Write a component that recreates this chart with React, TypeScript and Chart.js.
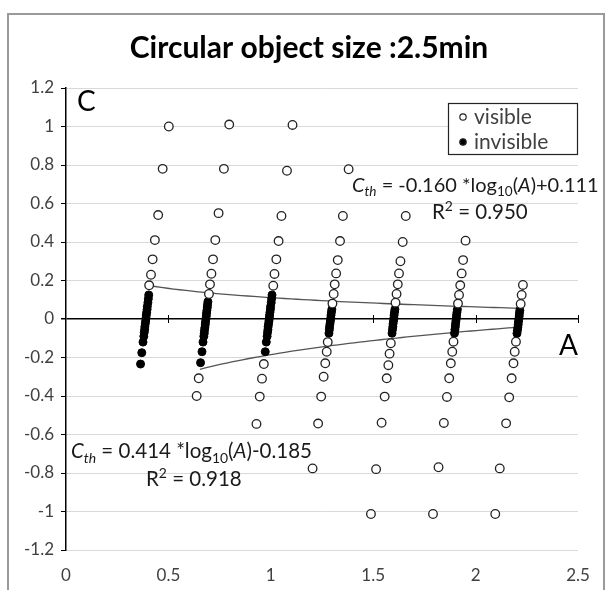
import React, { useEffect, useRef } from "react";
import { Chart, registerables } from "chart.js";

Chart.register(...registerables);

const TITLE = "Circular object size :2.5min";
const X_TICKS = [0, 0.5, 1, 1.5, 2, 2.5];

// visible (open circles)
const visibleA = [
  0.502, 0.472, 0.450, 0.434, 0.423, 0.415, 0.406,
  0.797, 0.771, 0.745, 0.729, 0.718, 0.710, 0.703, 0.698, 0.648, 0.638,
  1.106, 1.079, 1.052, 1.038, 1.027, 1.018, 1.012, 0.966, 0.957, 0.946, 0.930,
  1.380, 1.352, 1.338, 1.327, 1.319, 1.312, 1.307, 1.301, 1.278, 1.273, 1.266, 1.258, 1.246, 1.231, 1.204,
  1.659, 1.644, 1.633, 1.626, 1.620, 1.614, 1.609, 1.586, 1.580, 1.574, 1.566, 1.556, 1.541, 1.514, 1.489,
  1.951, 1.939, 1.932, 1.925, 1.919, 1.914, 1.892, 1.886, 1.879, 1.871, 1.860, 1.845, 1.819, 1.792,
  2.231, 2.225, 2.220, 2.197, 2.191, 2.185, 2.176, 2.164, 2.149, 2.118, 2.096,
];
const visibleC = [
  1.0, 0.78, 0.54, 0.41, 0.31, 0.23, 0.175,
  1.01, 0.78, 0.55, 0.41, 0.31, 0.235, 0.18, 0.13, -0.308, -0.4,
  1.008, 0.77, 0.535, 0.405, 0.31, 0.234, 0.173, -0.234, -0.31, -0.403, -0.545,
  0.778, 0.535, 0.405, 0.306, 0.237, 0.18, 0.13, 0.08, -0.12, -0.17, -0.23, -0.3, -0.403, -0.543, -0.776,
  0.535, 0.4, 0.3, 0.237, 0.18, 0.13, 0.085, -0.126, -0.18, -0.24, -0.308, -0.403, -0.539, -0.78, -1.013,
  0.407, 0.306, 0.237, 0.175, 0.125, 0.08, -0.118, -0.17, -0.23, -0.308, -0.405, -0.54, -0.77, -1.013,
  0.177, 0.125, 0.078, -0.118, -0.17, -0.23, -0.308, -0.407, -0.542, -0.776, -1.013,
];

// invisible (filled circles)
const invisibleA = [
  0.404, 0.402, 0.400, 0.397, 0.396, 0.394, 0.392, 0.391, 0.389, 0.387, 0.385, 0.384, 0.382, 0.380, 0.376, 0.370, 0.364,
  0.693, 0.691, 0.690, 0.688, 0.686, 0.685, 0.683, 0.681, 0.680, 0.678, 0.676, 0.675, 0.673, 0.669, 0.664, 0.657,
  1.006, 1.004, 1.002, 0.999, 0.998, 0.996, 0.994, 0.993, 0.991, 0.989, 0.987, 0.986, 0.984, 0.982, 0.978, 0.973,
  1.298, 1.296, 1.294, 1.293, 1.291, 1.289, 1.287, 1.286, 1.284,
  1.606, 1.604, 1.602, 1.601, 1.599, 1.597, 1.596, 1.594, 1.592,
  1.911, 1.909, 1.907, 1.906, 1.904, 1.902, 1.901, 1.899, 1.897,
  2.216, 2.214, 2.213, 2.211, 2.209, 2.208, 2.206, 2.204, 2.202,
];
const invisibleC = [
  0.125, 0.105, 0.085, 0.065, 0.05, 0.035, 0.02, 0.005, -0.01, -0.025, -0.04, -0.055, -0.07, -0.09, -0.12, -0.175, -0.234,
  0.09, 0.075, 0.06, 0.045, 0.03, 0.015, 0, -0.015, -0.03, -0.045, -0.06, -0.075, -0.09, -0.12, -0.17, -0.227,
  0.125, 0.105, 0.085, 0.065, 0.05, 0.035, 0.02, 0.005, -0.01, -0.025, -0.04, -0.055, -0.07, -0.09, -0.12, -0.17,
  0.05, 0.035, 0.02, 0.005, -0.01, -0.025, -0.04, -0.055, -0.074,
  0.05, 0.035, 0.02, 0.005, -0.01, -0.025, -0.04, -0.055, -0.074,
  0.05, 0.035, 0.02, 0.005, -0.01, -0.025, -0.04, -0.055, -0.074,
  0.045, 0.03, 0.015, 0, -0.015, -0.03, -0.045, -0.06, -0.075,
];

// fitted trend lines (from the equations printed on the chart)
const upperFit = { slope: -0.16, intercept: 0.111, from: 0.405, to: 2.211 };
const lowerFit = { slope: 0.414, intercept: -0.185, from: 0.654, to: 2.211 };

function fitPoints(f: { slope: number; intercept: number; from: number; to: number }) {
  const pts: { x: number; y: number }[] = [];
  const n = 60;
  for (let i = 0; i <= n; i++) {
    const a = f.from + ((f.to - f.from) * i) / n;
    pts.push({ x: a, y: f.slope * Math.log10(a) + f.intercept });
  }
  return pts;
}

const FONT = "Lato, 'Open Sans', sans-serif";

type Seg = { t: string; it?: boolean; sub?: boolean; sup?: boolean };

function drawRich(ctx: CanvasRenderingContext2D, segs: Seg[], x: number, y: number, size: number, color: string) {
  let cx = x;
  ctx.fillStyle = color;
  ctx.textBaseline = "alphabetic";
  ctx.textAlign = "left";
  for (const s of segs) {
    const sz = s.sub || s.sup ? size * 0.68 : size;
    ctx.font = `${s.it ? "italic " : ""}${sz}px ${FONT}`;
    const dy = s.sub ? size * 0.22 : s.sup ? -size * 0.38 : 0;
    ctx.fillText(s.t, cx, y + dy);
    cx += ctx.measureText(s.t).width;
  }
}

const fmt = (v: number) => String(Math.round(v * 10) / 10);

const decorPlugin = {
  id: "decor",
  beforeDraw(chart: any) {
    const ctx = chart.ctx as CanvasRenderingContext2D;
    ctx.save();
    ctx.fillStyle = "#ffffff";
    ctx.fillRect(0, 0, chart.width, chart.height);
    ctx.strokeStyle = "#9a9a9a";
    ctx.lineWidth = 2;
    ctx.strokeRect(8, 14, 596, 590);
    ctx.restore();
  },
  afterDraw(chart: any) {
    const ctx = chart.ctx as CanvasRenderingContext2D;
    const xs = chart.scales.x;
    const ys = chart.scales.y;
    ctx.save();
    // title
    ctx.fillStyle = "#000";
    ctx.font = `bold 30px ${FONT}`;
    ctx.textAlign = "center";
    ctx.textBaseline = "middle";
    ctx.fillText(TITLE, 309, 48);
    // axis names
    ctx.font = `28px ${FONT}`;
    ctx.textAlign = "left";
    ctx.textBaseline = "alphabetic";
    ctx.fillText("C", 77, 111);
    ctx.fillText("A", 559, 355);
    // ticks on the zero line
    const y0 = ys.getPixelForValue(0);
    ctx.strokeStyle = "#000";
    ctx.lineWidth = 1;
    for (const v of X_TICKS) {
      if (v === 0) continue;
      const px = Math.round(xs.getPixelForValue(v)) + 0.5;
      ctx.beginPath();
      ctx.moveTo(px, y0 - 4);
      ctx.lineTo(px, y0 + 4);
      ctx.stroke();
    }
    // equations
    drawRich(ctx, [
      { t: "C", it: true }, { t: "th", it: true, sub: true }, { t: " = -0.160 *log" },
      { t: "10", sub: true }, { t: "(" }, { t: "A", it: true }, { t: ")+0.111" },
    ], 352, 192, 20, "#1a1a1a");
    drawRich(ctx, [{ t: "R" }, { t: "2", sup: true }, { t: " = 0.950" }], 432, 219, 20.5, "#1a1a1a");
    drawRich(ctx, [
      { t: "C", it: true }, { t: "th", it: true, sub: true }, { t: " = 0.414 *log" },
      { t: "10", sub: true }, { t: "(" }, { t: "A", it: true }, { t: ")-0.185" },
    ], 71, 458, 20.5, "#1a1a1a");
    drawRich(ctx, [{ t: "R" }, { t: "2", sup: true }, { t: " = 0.918" }], 146, 486, 20.5, "#1a1a1a");
    // legend
    ctx.fillStyle = "#ffffff";
    ctx.fillRect(448, 103, 129, 51);
    ctx.strokeStyle = "#222";
    ctx.lineWidth = 1.2;
    ctx.strokeRect(448.5, 103.5, 129, 51);
    const ds = chart.data.datasets;
    ctx.font = `21px ${FONT}`;
    ctx.textBaseline = "middle";
    ctx.textAlign = "left";
    const rows = [ds[0], ds[1]];
    rows.forEach((d: any, i: number) => {
      const cy = 117 + i * 25;
      ctx.beginPath();
      ctx.arc(463, cy, 3.2, 0, Math.PI * 2);
      ctx.fillStyle = d.backgroundColor;
      ctx.fill();
      ctx.strokeStyle = "#222";
      ctx.lineWidth = 1.2;
      ctx.stroke();
      ctx.fillStyle = "#404040";
      ctx.fillText(d.label, 474, cy);
    });
    ctx.restore();
  },
};

export default function App() {
  const ref = useRef<HTMLCanvasElement | null>(null);
  useEffect(() => {
    document.body.style.margin = "0";
    const canvas = ref.current!;
    const visible = visibleA.map((a, i) => ({ x: a, y: visibleC[i] }));
    const invisible = invisibleA.map((a, i) => ({ x: a, y: invisibleC[i] }));
    const chart = new Chart(canvas, {
      type: "scatter",
      data: {
        datasets: [
          {
            label: "visible",
            data: visible,
            backgroundColor: "#ffffff",
            borderColor: "#222",
            borderWidth: 1.3,
            pointRadius: 4.3,
            order: 0,
          },
          {
            label: "invisible",
            data: invisible,
            backgroundColor: "#000000",
            borderColor: "#000",
            borderWidth: 1,
            pointRadius: 4,
            order: 0,
          },
          {
            label: "upper",
            type: "line",
            data: fitPoints(upperFit),
            borderColor: "#555",
            borderWidth: 1.3,
            pointRadius: 0,
            fill: false,
            order: 2,
          } as any,
          {
            label: "lower",
            type: "line",
            data: fitPoints(lowerFit),
            borderColor: "#555",
            borderWidth: 1.3,
            pointRadius: 0,
            fill: false,
            order: 2,
          } as any,
        ],
      },
      options: {
        animation: false,
        responsive: false,
        layout: { padding: { top: 88, right: 30, left: 0, bottom: 0 } },
        plugins: { legend: { display: false }, title: { display: false }, tooltip: { enabled: false } },
        scales: {
          x: {
            type: "linear",
            min: 0,
            max: 2.5,
            afterBuildTicks: (s: any) => {
              s.ticks = X_TICKS.map((v) => ({ value: v }));
            },
            afterFit: (s: any) => {
              s.height = 40;
            },
            grid: { display: false, drawTicks: false },
            border: { display: false },
            ticks: { padding: 15, color: "#404040", font: { family: FONT, size: 17 }, callback: (v: any) => fmt(Number(v)) },
          },
          y: {
            min: -1.2,
            max: 1.2,
            afterFit: (s: any) => {
              s.width = 66;
            },
            ticks: { stepSize: 0.2, padding: 7, color: "#404040", font: { family: FONT, size: 17 }, callback: (v: any) => fmt(Number(v)) },
            grid: {
              color: (c: any) => (c.tick && Math.abs(c.tick.value) < 1e-9 ? "#000" : "#d9d9d9"),
              lineWidth: (c: any) => (c.tick && Math.abs(c.tick.value) < 1e-9 ? 1.5 : 1),
              tickColor: "#000",
              tickLength: 5,
            },
            border: { display: true, color: "#000", width: 1.5 },
          },
        },
      } as any,
      plugins: [decorPlugin],
    });
    return () => chart.destroy();
  }, []);
  return <canvas ref={ref} width={608} height={590} style={{ display: "block", width: 608, height: 590 }} />;
}
